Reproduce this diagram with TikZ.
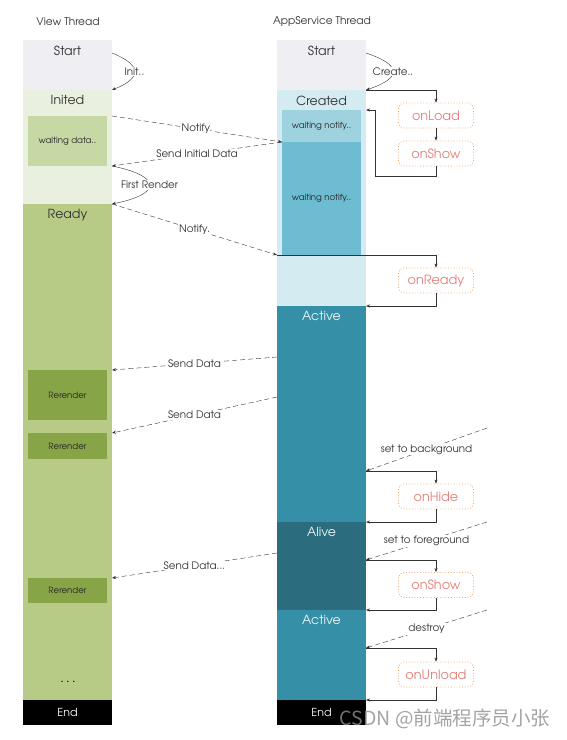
\documentclass[tikz,border=0pt]{standalone}
\usepackage{fontspec}
\setmainfont{TeX Gyre Adventor}
\newfontfamily\cjk{Noto Sans CJK SC}
\usetikzlibrary{arrows.meta}
\definecolor{cstart}{HTML}{EFEEF3}
\definecolor{cinited}{HTML}{EAF0DF}
\definecolor{cwait}{HTML}{C6D8A4}
\definecolor{cready}{HTML}{B7CB87}
\definecolor{crerender}{HTML}{87A447}
\definecolor{ccreated}{HTML}{D3EBF1}
\definecolor{cwaitone}{HTML}{9FD2DF}
\definecolor{cwaittwo}{HTML}{6DBCD2}
\definecolor{cactive}{HTML}{358FA6}
\definecolor{calive}{HTML}{2B6D7F}
\definecolor{chook}{HTML}{F2A46E}
\definecolor{chooktext}{HTML}{E2807A}
\tikzset{
  blk/.style={anchor=north west,inner sep=0pt,outer sep=0pt,minimum width=89pt},
  inblk/.style={anchor=north west,inner sep=0pt,outer sep=0pt,minimum width=79pt,
    text=black!85,font=\fontsize{8.6}{9}\selectfont},
  head/.style={anchor=north,inner sep=5.5pt,font=\fontsize{12.5}{13}\selectfont},
  hook/.style={draw=chook,dotted,thick,rounded corners=5pt,minimum width=75pt,
    minimum height=25pt,text=chooktext,font=\fontsize{12.8}{13}\selectfont},
  msg/.style={->,dash pattern=on 5pt off 3pt,black!80},
  tag/.style={fill=white,inner sep=1pt,text=black!80,font=\fontsize{10.3}{11}\selectfont},
}
\begin{document}
\begin{tikzpicture}[x=1pt,y=-1pt,>={Stealth[length=4pt,width=3pt]}]
  \useasboundingbox (0,0) rectangle (566,740);
  \node[font=\fontsize{10.6}{11}\selectfont,text=black!80] (vtitle) at (68,22) {View Thread};
  \node[font=\fontsize{10.6}{11}\selectfont,text=black!80] (atitle) at (322,22) {AppService Thread};

  \node[blk,fill=cstart,minimum height=50pt,label={[head,text=black!80]north:Start}] (vstart) at (23,40) {};
  \node[blk,fill=cinited,minimum height=114pt,label={[head,text=black!80]north:Inited}] (vinited) at (23,90) {};
  \node[inblk,fill=cwait,minimum height=50pt] (vwait) at (28,116) {waiting data..};
  \node[blk,fill=cready,minimum height=496pt,label={[head,text=black!80]north:Ready}] (vready) at (23,204) {};
  \node[inblk,fill=crerender,minimum height=50pt] (vre1) at (28,370) {Rerender};
  \node[inblk,fill=crerender,minimum height=26pt] (vre2) at (28,433) {Rerender};
  \node[inblk,fill=crerender,minimum height=25pt] (vre3) at (28,578) {Rerender};
  \node[font=\bfseries\fontsize{9}{9}\selectfont] (vdots) at (68,682) {. . .};
  \node[blk,fill=black,text=white,minimum height=25pt,font=\fontsize{11}{12}\selectfont] (vend) at (23,700) {End};

  \node[blk,fill=cstart,minimum height=50pt,label={[head,text=black!80]north:Start}] (astart) at (277,40) {};
  \node[blk,fill=ccreated,minimum height=216pt,label={[head,text=black!80]north:Created}] (acreated) at (277,90) {};
  \node[inblk,fill=cwaitone,minimum height=32pt] (await1) at (282,110) {waiting notify..};
  \node[inblk,fill=cwaittwo,minimum height=113pt] (await2) at (282,142) {waiting notify..};
  \node[blk,fill=cactive,minimum height=216pt,label={[head,text=white!92!cactive]north:Active}] (aactive) at (277,306) {};
  \node[blk,fill=calive,minimum height=88pt,label={[head,text=white!92!calive]north:Alive}] (aalive) at (277,522) {};
  \node[blk,fill=cactive,minimum height=90pt,label={[head,text=white!92!cactive]north:Active}] (aactive2) at (277,610) {};
  \node[blk,fill=black,text=white,minimum height=25pt,font=\fontsize{11}{12}\selectfont] (aend) at (277,700) {End};

  \node[hook] (honload) at (436,115.5) {onLoad};
  \node[hook] (honshow) at (436,153.5) {onShow};
  \node[hook] (honready) at (436,280.5) {onReady};
  \node[hook] (honhide) at (436,496.5) {onHide};
  \node[hook] (honshowb) at (436,585) {onShow};
  \node[hook] (honunload) at (436,674.5) {onUnload};

  \coordinate (bg) at (487,428);
  \coordinate (fg) at (487,522);
  \coordinate (ds) at (487,610);

  \draw[->,black!80] ([yshift=-13pt]vstart.north east) .. controls +(30,12) and +(30,-12) .. node[tag] {Init..} (vinited.north east);
  \draw[->,black!80] ([yshift=-13pt]astart.north east) .. controls +(36,12) and +(36,-12) .. node[tag] {Create..} (acreated.north east);
  \draw[->,black!80] (vinited.east |- vwait.south) .. controls +(50,10) and +(50,-10) .. node[tag] {First Render} (vready.north east);

  \draw[msg] (vinited.east |- vwait.north) -- node[tag] {Notify.} (await2.north west);
  \draw[msg] (await2.north west) -- node[tag] {Send Initial Data} (vinited.east |- vwait.south);
  \draw[msg] (vready.north east) -- node[tag] {Notify.} (acreated.west |- await2.south);
  \draw[msg] ([yshift=-51pt]aactive.north west) -- node[tag] {Send Data} (vre1.north -| vready.east);
  \draw[msg] ([yshift=-91pt]aactive.north west) -- node[tag] {Send Data} (vre2.north -| vready.east);
  \draw[msg] ([yshift=-31pt]aalive.north west) -- node[tag] {Send Data...} (vre3.north -| vready.east);
  \draw[msg] (bg) -- node[tag] {set to background} ([yshift=-165pt]aactive.north east);
  \draw[msg] (fg) -- node[tag] {set to foreground} ([yshift=-38pt]aalive.north east);
  \draw[msg] (ds) -- node[tag] {destroy} ([yshift=-38pt]aactive2.north east);

  \draw[->,black!80] (acreated.north east) -| (honload.north);
  \draw[->,black!80] (honload) -- (honshow);
  \draw[->,black!80] (honshow.south) -- ++(0,10) -| ([xshift=9pt]acreated.east |- await1.north) -- (acreated.east |- await1.north);
  \draw[->,black!80] (acreated.west |- await2.south) -| (honready.north);
  \draw[->,black!80] (honready.south) |- (aactive.north east);
  \draw[->,black!80] ([yshift=-165pt]aactive.north east) -| (honhide.north);
  \draw[->,black!80] (honhide.south) |- (aalive.north east);
  \draw[->,black!80] ([yshift=-38pt]aalive.north east) -| (honshowb.north);
  \draw[->,black!80] (honshowb.south) |- (aactive2.north east);
  \draw[->,black!80] ([yshift=-38pt]aactive2.north east) -| (honunload.north);
  \draw[->,black!80] (honunload.south) |- (aend.north east);

  \node[text=black!45,opacity=0.8,font=\cjk\fontsize{19.5}{20}\selectfont] (mark) at (445,719) {CSDN @前端程序员小张};
\end{tikzpicture}
\end{document}
